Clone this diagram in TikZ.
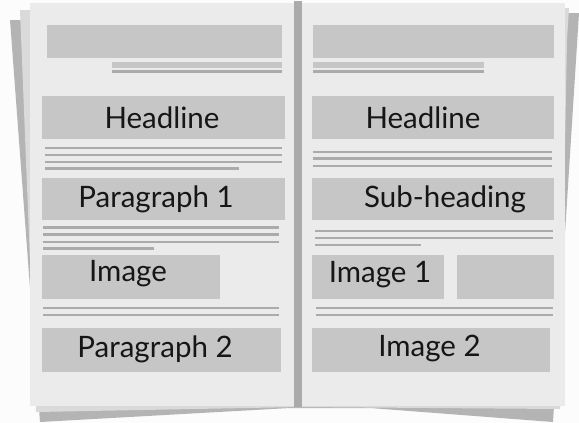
\documentclass[tikz,border=0pt]{standalone}
\usepackage{fontspec}
\setmainfont{Lato}
\definecolor{bg}{HTML}{FCFCFC}
\definecolor{pagec}{HTML}{EBEBEB}
\definecolor{boxc}{HTML}{C6C6C6}
\definecolor{linec}{HTML}{ABABAB}
\definecolor{sheetdark}{HTML}{B4B4B4}
\definecolor{sheetlight}{HTML}{DADADA}
\definecolor{txt}{HTML}{161616}
\begin{document}
\begin{tikzpicture}[x=1pt,y=-1pt,
  blk/.style={fill=boxc,draw=none},
  rule/.style={fill=linec,draw=none},
  lbl/.style={text=txt,font=\fontsize{29.5}{30}\selectfont,anchor=center,inner sep=0pt}]
\useasboundingbox (0,0) rectangle (579,423);
\fill[bg] (0,0) rectangle (579,423);
% back sheets
\fill[sheetdark] (10,20) -- (300,20) -- (300,408) -- (290,408) -- (40,422) -- cycle;
\fill[sheetlight] (20,10) -- (300,10) -- (300,407) -- (36,412) -- cycle;
\fill[sheetdark] (566,13) -- (579,13) -- (553,422) -- (370,408) -- (300,408) -- (300,20) -- cycle;
\fill[sheetlight] (300,8) -- (569,8) -- (567,40) -- (560,409) -- (300,407) -- cycle;
% front page
\fill[pagec] (30,3) rectangle (565,406);
% spine
\fill[linec] (294,1) rectangle (302,407);
% left page
\fill[blk] (47,25) rectangle (282,58);
\fill[boxc] (112,62) rectangle (282,68);
\fill[linec] (112,70) rectangle (282,73);
\node[blk,minimum width=243pt,minimum height=43pt,inner sep=0pt] (hl) at (163.5,117.5) {};
\node[lbl] (hlt) at (162,118) {Headline};
\fill[rule] (45,146.5) rectangle (282,149);
\fill[rule] (45,153.5) rectangle (282,156);
\fill[rule] (45,160.5) rectangle (282,163);
\fill[rule] (45,167) rectangle (239,169.5);
\node[blk,minimum width=243pt,minimum height=42pt,inner sep=0pt] (p1) at (163.5,199) {};
\node[lbl] (p1t) at (156,199) {Paragraph 1};
\fill[rule] (43,226) rectangle (279,228.5);
\fill[rule] (43,233) rectangle (279,235.5);
\fill[rule] (43,240.5) rectangle (279,243);
\fill[rule] (43,247) rectangle (154,249.5);
\node[blk,minimum width=178pt,minimum height=44pt,inner sep=0pt] (im) at (131,277) {};
\node[lbl] (imt) at (128,274) {Image};
\fill[rule] (43,306.5) rectangle (279,309);
\fill[rule] (43,313.5) rectangle (279,316);
\node[blk,minimum width=239pt,minimum height=44pt,inner sep=0pt] (p2) at (161.5,350) {};
\node[lbl] (p2t) at (155,349) {Paragraph 2};
% right page
\fill[blk] (313,25) rectangle (554,58);
\fill[boxc] (313,62) rectangle (484,68);
\fill[linec] (313,70) rectangle (484,73);
\node[blk,minimum width=242pt,minimum height=43pt,inner sep=0pt] (hr) at (433,117.5) {};
\node[lbl] (hrt) at (423,118) {Headline};
\fill[rule] (313,150.5) rectangle (552,153);
\fill[rule] (313,157) rectangle (552,159.5);
\fill[rule] (313,164.5) rectangle (552,167);
\node[blk,minimum width=242pt,minimum height=42pt,inner sep=0pt] (sh) at (433,199) {};
\node[lbl] (sht) at (445,199) {Sub-heading};
\fill[rule] (315,229.5) rectangle (553,232);
\fill[rule] (315,236.5) rectangle (553,239);
\fill[rule] (315,243.5) rectangle (421,246);
\node[blk,minimum width=132pt,minimum height=44pt,inner sep=0pt] (i1) at (378,277) {};
\node[lbl] (i1t) at (380,275) {Image 1};
\node[blk,minimum width=97pt,minimum height=44pt,inner sep=0pt] (i3) at (505.5,277) {};
\fill[rule] (316,306.5) rectangle (553,309);
\fill[rule] (316,313.5) rectangle (553,316);
\node[blk,minimum width=238pt,minimum height=44pt,inner sep=0pt] (i2) at (431,350) {};
\node[lbl] (i2t) at (429.5,349) {Image 2};
\end{tikzpicture}
\end{document}
